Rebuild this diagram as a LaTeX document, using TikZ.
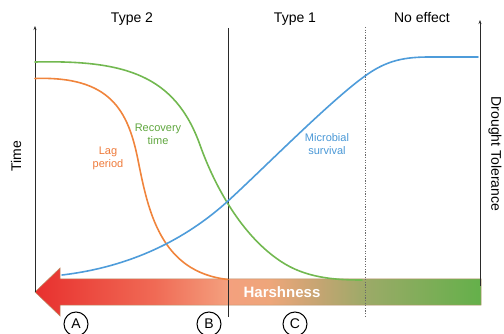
\documentclass[tikz,border=0pt]{standalone}
\usepackage{fontspec}
\setmainfont{Liberation Sans}
\usetikzlibrary{arrows.meta}
\definecolor{hA}{HTML}{E8302E}
\definecolor{hB}{HTML}{F06A55}
\definecolor{hC}{HTML}{F4A07E}
\definecolor{hD}{HTML}{EEA67A}
\definecolor{hE}{HTML}{C4A572}
\definecolor{hF}{HTML}{9CAA68}
\definecolor{hG}{HTML}{64B04A}
\definecolor{cgreen}{HTML}{72B850}
\definecolor{corange}{HTML}{F0843C}
\definecolor{cblue}{HTML}{4E9CDA}
\definecolor{tgreen}{HTML}{5FA63E}
\definecolor{torange}{HTML}{EE7A3A}
\definecolor{tblue}{HTML}{4A98D6}
\definecolor{axisgray}{HTML}{2A2A2A}
\definecolor{dotgray}{HTML}{6A6A6A}
\definecolor{bordertan}{HTML}{B89068}
\pgfdeclarehorizontalshading{harsh}{100bp}{color(0bp)=(hA); color(25bp)=(hA); color(38.4bp)=(hB); color(46.6bp)=(hC); color(51.3bp)=(hD); color(56.9bp)=(hE); color(62bp)=(hF); color(75bp)=(hG); color(100bp)=(hG)}
\begin{document}
\begin{tikzpicture}[x=1pt,y=-1pt,
  title/.style={inner sep=0pt, anchor=base, font=\fontsize{14}{16}\selectfont},
  axislabel/.style={inner sep=0pt, font=\fontsize{14}{16}\selectfont},
  curvelabel/.style={inner sep=0pt, align=center, font=\fontsize{11}{13}\selectfont},
  curve/.style={line width=1.6pt, line cap=round},
  axisline/.style={line width=1pt, draw=axisgray, -{Stealth[length=4pt,width=3pt]}},
  circlabel/.style={draw, circle, line width=1pt, minimum size=24pt, inner sep=0pt, font=\fontsize{14}{16}\selectfont}
]
\useasboundingbox (0,0) rectangle (504,334);

% harshness arrow
\shade[shading=harsh, draw=bordertan, line width=0.5pt]
  (35,292) -- (60,268) -- (60,279) -- (481,279) -- (481,305) -- (60,305) -- (60,316) -- cycle;
\node[inner sep=0pt, anchor=base, text=white, font=\fontsize{15}{17}\selectfont\bfseries] (harsh) at (282,298) {Harshness};

% axes
\coordinate (lb) at (35,292);
\coordinate (lt) at (35,26);
\coordinate (rb) at (480,286);
\coordinate (rt) at (480,20);
\draw[axisline] (lb) -- (lt);
\draw[axisline] (rb) -- (rt);

% separators
\coordinate (bt) at (228,28);
\coordinate (bb) at (228,317);
\coordinate (dt) at (365,27);
\coordinate (db) at (365,317);
\draw[line width=0.8pt, draw=axisgray] (bt) -- (bb);
\draw[line width=1pt, draw=dotgray, dash pattern=on 1.3pt off 1.3pt] (dt) -- (db);

% curves
\draw[curve, cgreen] (35,62) .. controls (125,60) and (175,75) .. (200,145)
  .. controls (216,190) and (245,240) .. (285,264)
  .. controls (310,279) and (340,280) .. (362,280);
\draw[curve, corange] (35,78.5) .. controls (110,76) and (128,110) .. (138,160)
  .. controls (148,210) and (160,272) .. (228,279.5);
\draw[curve, cblue] (62,275) .. controls (130,267) and (185,240) .. (228,201)
  .. controls (262,170) and (330,101) .. (365,76)
  .. controls (387,60) and (405,57) .. (430,57) -- (478,57);

% curve labels
\node[curvelabel, text=tgreen] (rec) at (158,134) {Recovery\\time};
\node[curvelabel, text=torange] (lag) at (108,158.5) {Lag\\period};
\node[curvelabel, text=tblue] (mic) at (327,144) {Microbial\\survival};

% titles
\node[title] (t2) at (132,23) {Type 2};
\node[title] (t1) at (295,23) {Type 1};
\node[title] (ne) at (422,23) {No effect};

% axis labels
\node[axislabel, rotate=90] (time) at (16,156) {Time};
\node[axislabel, rotate=-90] (dtl) at (495,154) {Drought Tolerance};

% circled letters
\node[circlabel] (ca) at (76,324) {A};
\node[circlabel] (cb) at (209,324) {B};
\node[circlabel] (cc) at (295,324) {C};
\end{tikzpicture}
\end{document}
